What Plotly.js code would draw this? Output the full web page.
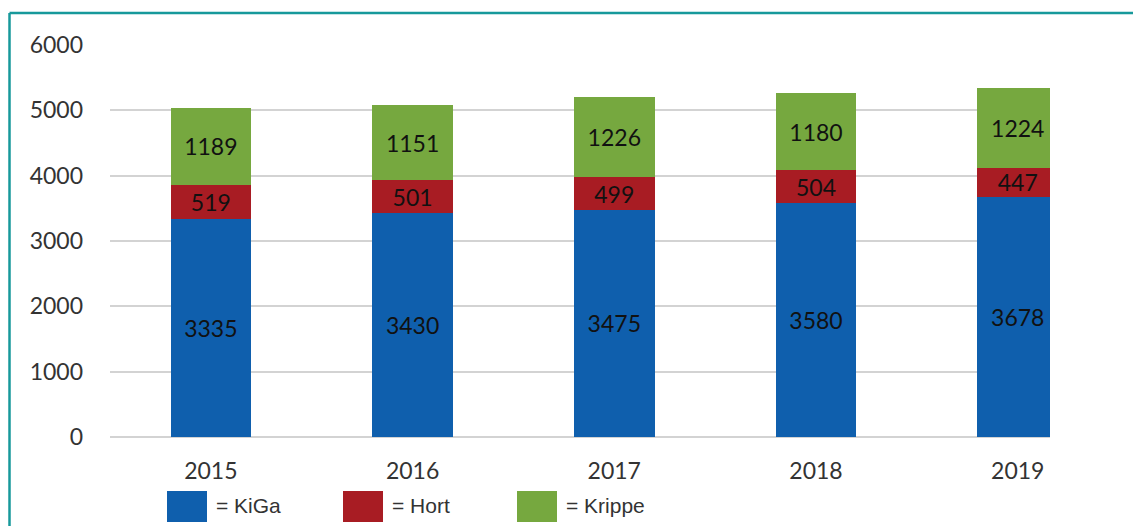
<!DOCTYPE html>
<html><head><meta charset="utf-8">
<script src="https://cdn.plot.ly/plotly-3.0.1.min.js"></script>
<style>html,body{margin:0;padding:0;background:#fff;}#chart{width:1133px;height:526px;}</style>
</head><body><div id="chart"></div>
<script>
const years = ['2015','2016','2017','2018','2019'];
const kiga = [3335, 3430, 3475, 3580, 3678];
const hort = [519, 501, 499, 504, 447];
const krippe = [1189, 1151, 1226, 1180, 1224];
const seriesNames = ['KiGa','Hort','Krippe'];
const seriesColors = ['#0f5fad','#a81c23','#76a83f'];
const yTicks = [0,1000,2000,3000,4000,5000,6000];

const W = 1133, H = 526, L = 110, R = 1050, T = 45, B = 437;
const px = x => (x - L) / (R - L);
const py = y => (B - y) / (B - T);

const fontFam = 'Lato, "Open Sans", sans-serif';
const values = [kiga, hort, krippe];
const traces = values.map((v, i) => ({
  type: 'bar', x: years, y: v, name: seriesNames[i],
  marker: {color: seriesColors[i], line: {width: 0}},
  width: 0.4,
  text: v.map(String), textposition: 'inside', insidetextanchor: 'middle',
  constraintext: 'none',
  textfont: {family: fontFam, size: 23, color: '#111'},
  hoverinfo: 'x+y+name'
}));

const legendX = [167, 343, 517];
const shapes = [
  {type:'line', xref:'paper', yref:'paper', x0:px(9.5), x1:px(9.5), y0:py(13), y1:py(540), line:{color:'#17999b', width:2.5}},
  {type:'line', xref:'paper', yref:'paper', x0:px(9.5), x1:px(1145), y0:py(13), y1:py(13), line:{color:'#17999b', width:2.5}}
];
const annotations = [];
seriesNames.forEach((n, i) => {
  const x0 = legendX[i];
  shapes.push({type:'rect', xref:'paper', yref:'paper', x0:px(x0), x1:px(x0+40), y0:py(491), y1:py(522), fillcolor:seriesColors[i], line:{width:0}});
  annotations.push({xref:'paper', yref:'paper', x:px(x0+47), y:py(505), xanchor:'left', yanchor:'middle', showarrow:false,
    text:'= ' + n, font:{family:'"Liberation Sans", Arial, sans-serif', size:21, color:'#333'}});
});

const layout = {
  width: W, height: H,
  margin: {l: L, r: W - R, t: T, b: H - B, pad: 0},
  paper_bgcolor: '#fff', plot_bgcolor: '#fff',
  barmode: 'stack', showlegend: false,
  xaxis: {type:'category', range:[-0.5, 4.16], showgrid:false, zeroline:false, showline:false, ticks:'',
    tickfont:{family:fontFam, size:23, color:'#333'}, ticklabelstandoff: 18, fixedrange:true},
  yaxis: {range:[0, 6000], tickvals: yTicks, ticktext: yTicks.map(String), showgrid:true, gridcolor:'#d3d3d3', gridwidth:2,
    zeroline:true, zerolinecolor:'#d3d3d3', zerolinewidth:2, showline:false, ticks:'',
    tickfont:{family:fontFam, size:23, color:'#333'}, ticklabelstandoff: 26, fixedrange:true},
  shapes: shapes, annotations: annotations
};
Plotly.newPlot('chart', traces, layout, {displayModeBar:false, staticPlot:true});
</script></body></html>
